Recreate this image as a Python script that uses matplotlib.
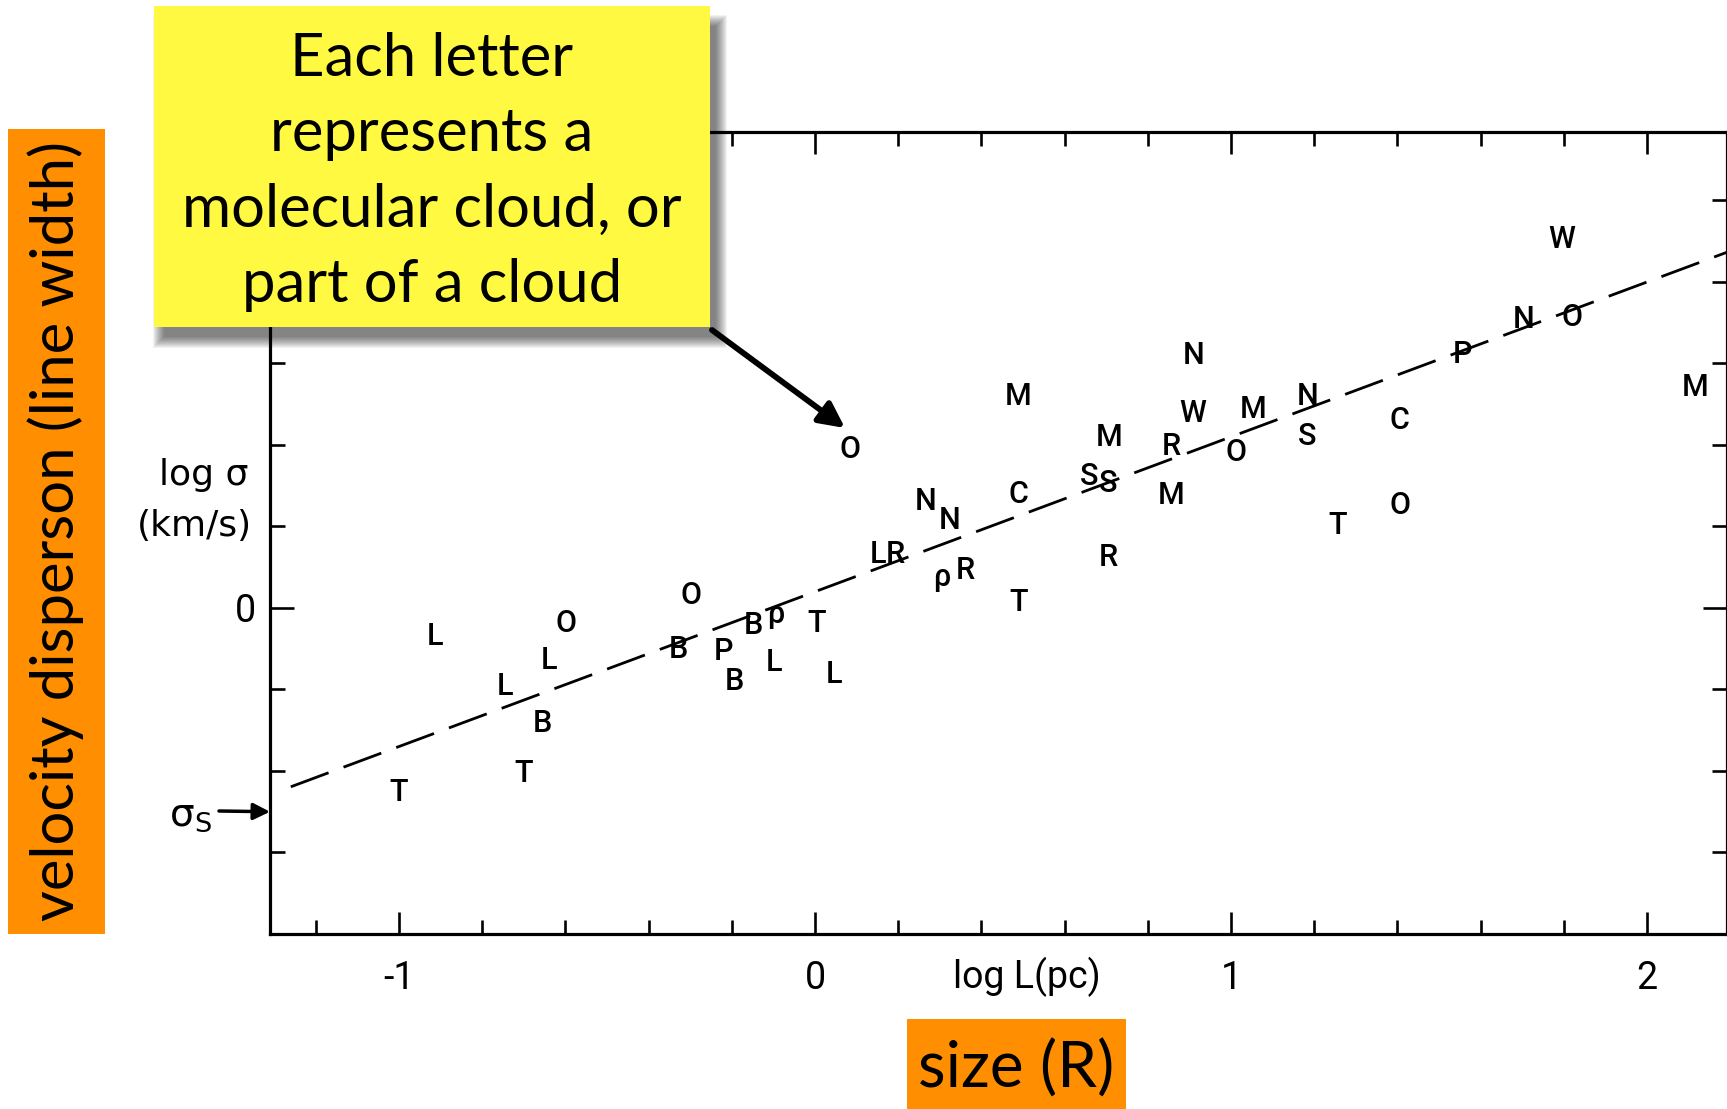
import matplotlib
matplotlib.use('Agg')
import matplotlib.pyplot as plt
from matplotlib.patches import Rectangle, FancyArrowPatch
from matplotlib.ticker import MultipleLocator, FixedLocator

plt.rcParams['lines.scale_dashes'] = False
plt.rcParams['mathtext.fontset'] = 'dejavusans'

W, H = 1727, 1109

# ---- data ----
labels = ['T', 'L', 'L', 'B', 'T', 'L', 'O', 'B', 'O', 'P', 'B', 'B', 'ρ', 'L', 'T', 'L',
          'O', 'L', 'R', 'N', 'N', 'ρ', 'R', 'M', 'C', 'T', 'S', 'S', 'M', 'R', 'N', 'W',
          'R', 'M', 'M', 'O', 'N', 'S', 'T', 'C', 'O', 'P', 'N', 'O', 'W', 'M']
log_L = [-1.000, -0.913, -0.746, -0.656, -0.701, -0.640, -0.598, -0.328, -0.299, -0.220,
         -0.193, -0.148, -0.095, -0.098, 0.003, 0.045, 0.085, 0.151, 0.193, 0.265, 0.323,
         0.304, 0.362, 0.489, 0.489, 0.489, 0.659, 0.704, 0.706, 0.706, 0.910, 0.907,
         0.857, 0.857, 1.053, 1.011, 1.185, 1.183, 1.257, 1.405, 1.405, 1.556, 1.704,
         1.820, 1.794, 2.116]
log_sigma = [-0.454, -0.070, -0.192, -0.284, -0.405, -0.130, -0.038, -0.103, 0.030, -0.108,
             -0.181, -0.043, -0.016, -0.135, -0.038, -0.162, 0.389, 0.132, 0.132, 0.262,
             0.214, 0.076, 0.092, 0.519, 0.278, 0.014, 0.322, 0.305, 0.419, 0.124, 0.619,
             0.478, 0.397, 0.276, 0.486, 0.381, 0.519, 0.422, 0.203, 0.459, 0.251, 0.622,
             0.708, 0.714, 0.903, 0.541]

fit_intercept = 0.04   # log sigma = 0.04 + 0.38 log L  (sigma = 1.10 L^0.38)
fit_slope = 0.38
fit_x = [-1.26, 2.3]
sigma_s = -0.50

x_major = [-1, 0, 1, 2]
x_major_labels = ['-1', '0', '1', '2']
y_major = [0]
y_major_labels = ['0']

annotation_text = "Each letter\nrepresents a\nmolecular cloud, or\npart of a cloud"
ylabel_text = "velocity disperson (line width)"
xlabel_text = "size (R)"

SCAN = ['Roboto', 'DejaVu Sans']


def fx(x):
    return x / W


def fy(y):
    return 1 - y / H


fig = plt.figure(figsize=(W / 100, H / 100), dpi=100)
fig.patch.set_facecolor('white')

ax = fig.add_axes([fx(270), fy(934), fx(1727) - fx(270), fy(132) - fy(934)])
ax.set_xlim(-1.31, 2.192)
ax.set_ylim(-0.80, 1.168)

for s in ax.spines.values():
    s.set_linewidth(2.3)
    s.set_color('black')

# ticks
ax.xaxis.set_major_locator(FixedLocator(x_major))
ax.xaxis.set_minor_locator(MultipleLocator(0.2))
ax.set_xticklabels(x_major_labels)
ax.yaxis.set_major_locator(FixedLocator(y_major))
ax.yaxis.set_minor_locator(MultipleLocator(0.2))
ax.set_yticklabels(y_major_labels)
ax.tick_params(axis='both', which='both', direction='in', top=True, right=True,
               width=1.9, color='black')
ax.tick_params(axis='x', which='major', length=16, pad=19, labelsize=27)
ax.tick_params(axis='x', which='minor', length=10)
ax.tick_params(axis='y', which='major', length=17, pad=10, labelsize=27)
ax.tick_params(axis='y', which='minor', length=11)
for lab in ax.get_xticklabels() + ax.get_yticklabels():
    lab.set_family(SCAN)

# fit line
fit_y = [fit_intercept + fit_slope * v for v in fit_x]
ax.plot(fit_x, fit_y, color='black', lw=2.0, dashes=(29, 11.5))

# letters
for lab, xv, yv in zip(labels, log_L, log_sigma):
    ax.text(xv, yv, lab, ha='center', va='center', fontsize=22, fontweight='medium',
            family=SCAN, color='black', zorder=3)

# axis titles of the scanned figure
fig.text(fx(1027), fy(977), 'log L(pc)', ha='center', va='center', fontsize=27,
         family=SCAN)
fig.text(fx(248), fy(475), 'log σ', ha='right', va='center', fontsize=26,
         family='DejaVu Sans')
fig.text(fx(252), fy(526), '(km/s)', ha='right', va='center', fontsize=26,
         family='DejaVu Sans')

# sigma_s marker
ax.annotate('', xy=(-1.31, sigma_s), xycoords='data',
            xytext=(fx(219), fy(811)), textcoords='figure fraction',
            arrowprops=dict(arrowstyle='-|>', color='black', lw=2.5, mutation_scale=25,
                            shrinkA=0, shrinkB=0))
fig.text(fx(212), fy(815), 'σ$_{\\mathsf{S}}$', ha='right', va='center', fontsize=28,
         family='DejaVu Sans')

# yellow annotation box with drop shadow
bx0, by0, bx1, by1 = 154, 6, 710, 327
offx, offy = 5, 9
for e in range(12, 0, -1):
    fig.add_artist(Rectangle((fx(bx0 + offx - e + 6), fy(by1 + offy + e)),
                             fx(bx1 - bx0 + 2 * e - 6), fy(by0 + offy - e + 12) - fy(by1 + offy + e),
                             transform=fig.transFigure, facecolor='black', edgecolor='none',
                             alpha=0.05, zorder=9))
fig.add_artist(Rectangle((fx(bx0), fy(by1)), fx(bx1 - bx0), fy(by0) - fy(by1),
                         transform=fig.transFigure, facecolor='#FFFA41', edgecolor='none',
                         zorder=10))
fig.text(fx((bx0 + bx1) / 2), fy(172), annotation_text, ha='center', va='center',
         fontsize=43, family='Lato', linespacing=1.49, zorder=11)

arr = FancyArrowPatch((fx(712), fy(330)), (fx(845), fy(428)), transform=fig.transFigure,
                      arrowstyle='-|>', mutation_scale=38, lw=4.2, color='black',
                      shrinkA=0, shrinkB=0, zorder=11)
fig.add_artist(arr)

# orange label boxes
fig.add_artist(Rectangle((fx(8), fy(934)), fx(97), fy(129) - fy(934),
                         transform=fig.transFigure, facecolor='#FF8F00', edgecolor='none',
                         zorder=10))
fig.text(fx(56), fy(531), ylabel_text, rotation=90, ha='center', va='center',
         fontsize=43, family='Lato', zorder=11)
fig.add_artist(Rectangle((fx(907), fy(1109)), fx(219), fy(1019) - fy(1109),
                         transform=fig.transFigure, facecolor='#FF8F00', edgecolor='none',
                         zorder=10))
fig.text(fx(1016), fy(1069), xlabel_text, ha='center', va='center',
         fontsize=46, family='Lato', zorder=11)

fig.savefig('out.png', dpi=100, facecolor='white')
